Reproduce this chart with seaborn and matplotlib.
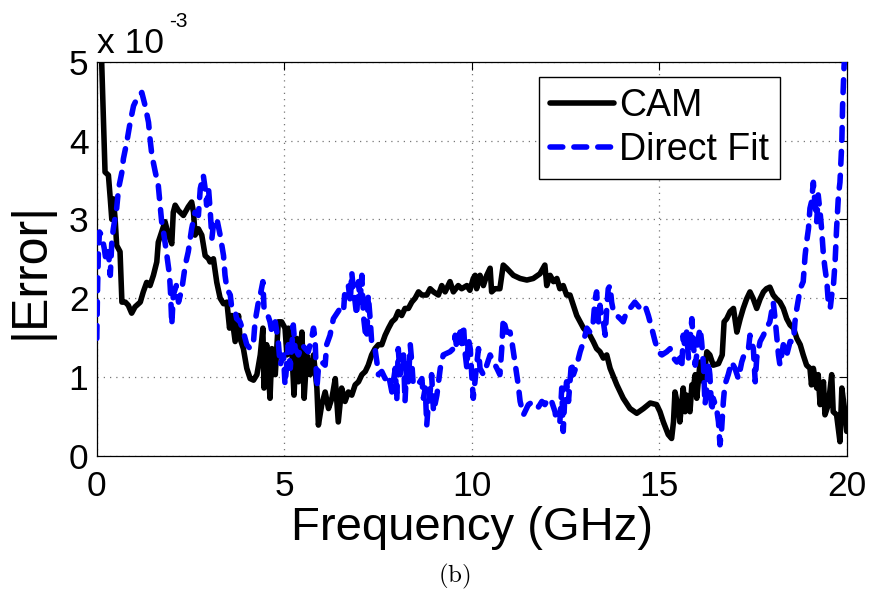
import numpy as np
import pandas as pd
import matplotlib
matplotlib.use("Agg")
import matplotlib.pyplot as plt
import seaborn as sns

# Error magnitudes in units of 1e-3, frequency in GHz
cam_freq = [0.00, 0.08, 0.13, 0.18, 0.22, 0.31, 0.36, 0.40, 0.44, 0.49, 0.53, 0.62, 0.67, 0.76, 0.84,
            0.93, 1.02, 1.16, 1.24, 1.33, 1.42, 1.51, 1.60, 1.64, 1.73, 1.82, 1.91, 2.00, 2.04, 2.09,
            2.18, 2.31, 2.44, 2.53, 2.58, 2.62, 2.71, 2.80, 2.89, 2.98, 3.02, 3.11, 3.20, 3.29, 3.38,
            3.47, 3.54, 3.60, 3.69, 3.78, 3.82, 3.91, 4.00, 4.09, 4.18, 4.27, 4.36, 4.43, 4.46, 4.53,
            4.62, 4.67, 4.76, 4.84, 4.93, 5.02, 5.07, 5.11, 5.20, 5.26, 5.33, 5.38, 5.47, 5.53, 5.60,
            5.69, 5.78, 5.87, 5.91, 6.00, 6.09, 6.18, 6.27, 6.36, 6.44, 6.53, 6.62, 6.71, 6.80, 6.89,
            6.98, 7.07, 7.16, 7.24, 7.33, 7.42, 7.51, 7.60, 7.69, 7.78, 7.87, 7.96, 8.04, 8.13, 8.22,
            8.31, 8.40, 8.49, 8.58, 8.67, 8.80, 8.89, 8.98, 9.11, 9.20, 9.29, 9.42, 9.51, 9.64, 9.73,
            9.87, 9.95, 10.04, 10.09, 10.13, 10.22, 10.31, 10.40, 10.49, 10.53, 10.62, 10.75, 10.80,
            10.84, 10.93, 11.11, 11.29, 11.47, 11.64, 11.82, 11.95, 12.00, 12.09, 12.18, 12.27, 12.35,
            12.44, 12.53, 12.62, 12.71, 12.80, 12.89, 12.98, 13.07, 13.15, 13.24, 13.33, 13.42, 13.51,
            13.60, 13.69, 13.87, 14.04, 14.22, 14.40, 14.58, 14.76, 14.93, 15.02, 15.11, 15.24, 15.33,
            15.38, 15.42, 15.51, 15.55, 15.64, 15.69, 15.73, 15.78, 15.82, 15.87, 15.91, 15.96, 16.00,
            16.09, 16.13, 16.18, 16.27, 16.35, 16.44, 16.58, 16.68, 16.73, 16.80, 16.89, 16.98, 17.07,
            17.16, 17.24, 17.33, 17.42, 17.51, 17.60, 17.69, 17.78, 17.86, 17.95, 18.04, 18.13, 18.22,
            18.31, 18.40, 18.49, 18.58, 18.67, 18.76, 18.84, 18.93, 19.02, 19.06, 19.11, 19.20, 19.24,
            19.29, 19.38, 19.42, 19.51, 19.60, 19.64, 19.73, 19.82, 19.87, 19.96, 20.00]
cam_err = [6.00, 5.30, 5.00, 4.23, 3.60, 3.56, 3.26, 3.00, 3.26, 3.00, 2.67, 2.59, 1.95, 1.95, 1.91,
           1.81, 1.89, 1.95, 2.08, 2.20, 2.16, 2.29, 2.46, 2.71, 2.84, 2.97, 2.80, 2.69, 3.09, 3.18,
           3.11, 3.05, 3.16, 3.22, 3.09, 2.80, 2.88, 2.80, 2.54, 2.50, 2.46, 2.50, 2.20, 2.00, 1.93,
           1.95, 1.62, 1.78, 1.45, 1.78, 1.49, 1.36, 1.11, 0.98, 0.96, 1.03, 1.28, 1.62, 0.86, 1.41,
           0.73, 1.36, 1.03, 1.70, 1.70, 1.62, 1.28, 1.62, 1.36, 0.77, 1.49, 0.94, 1.57, 0.73, 1.28,
           1.03, 1.28, 0.86, 0.39, 0.65, 0.81, 0.60, 0.73, 0.98, 0.43, 0.86, 0.69, 0.81, 0.77, 0.90,
           0.94, 1.03, 1.07, 1.15, 1.28, 1.36, 1.41, 1.41, 1.53, 1.62, 1.70, 1.74, 1.83, 1.78, 1.87,
           1.87, 1.95, 2.00, 2.08, 2.04, 2.04, 2.12, 2.08, 2.04, 2.16, 2.08, 2.21, 2.08, 2.16, 2.12,
           2.16, 2.10, 2.25, 2.29, 2.12, 2.29, 2.16, 2.29, 2.38, 2.08, 2.12, 2.12, 2.29,
           2.42, 2.38, 2.29, 2.25, 2.23, 2.25, 2.31, 2.42, 2.16, 2.29, 2.21, 2.25, 2.12,
           2.16, 2.04, 2.04, 1.91, 1.78, 1.70, 1.62, 1.57, 1.53, 1.45, 1.36, 1.32, 1.24,
           1.28, 1.11, 0.90, 0.73, 0.60, 0.54, 0.60, 0.67, 0.65, 0.56, 0.43, 0.27, 0.22,
           0.43, 0.81, 0.60, 0.43, 0.86, 0.56, 0.77, 0.60, 0.56, 0.90, 0.86, 1.03, 0.73,
           1.19, 1.07, 0.94, 1.32, 1.28, 1.15, 1.17, 1.28, 1.70, 1.74, 1.83, 1.87, 1.57,
           1.74, 1.87, 1.99, 2.08, 1.99, 1.87, 1.99, 2.08, 2.12, 2.14, 2.04, 1.99, 1.95,
           1.87, 1.74, 1.66, 1.62, 1.49, 1.41, 1.28, 1.15, 1.11, 0.90, 1.11, 0.86, 1.03,
           0.65, 0.94, 0.52, 0.65, 1.03, 0.56, 0.52, 0.18, 0.86, 0.52, 0.31]

fit_freq = [0.00, 0.02, 0.04, 0.07, 0.13, 0.20, 0.25, 0.31, 0.36, 0.40, 0.44, 0.53, 0.58, 0.67, 0.71,
            0.80, 0.89, 0.98, 1.07, 1.20, 1.29, 1.38, 1.42, 1.47, 1.56, 1.64, 1.69, 1.73, 1.78, 1.82,
            1.87, 1.94, 1.97, 2.00, 2.04, 2.12, 2.18, 2.27, 2.36, 2.44, 2.53, 2.62, 2.71, 2.76, 2.84,
            2.89, 2.93, 2.98, 3.02, 3.07, 3.11, 3.20, 3.29, 3.38, 3.42, 3.47, 3.56, 3.60, 3.69, 3.73,
            3.82, 3.91, 4.00, 4.09, 4.18, 4.22, 4.31, 4.36, 4.43, 4.46, 4.53, 4.62, 4.67, 4.76, 4.84,
            4.89, 4.98, 5.02, 5.11, 5.16, 5.24, 5.29, 5.38, 5.47, 5.56, 5.64, 5.73, 5.78, 5.82, 5.87,
            5.91, 6.00, 6.09, 6.13, 6.22, 6.31, 6.49, 6.58, 6.62, 6.71, 6.76, 6.80, 6.84, 6.89, 6.93,
            6.98, 7.02, 7.07, 7.11, 7.16, 7.20, 7.24, 7.29, 7.33, 7.42, 7.47, 7.51, 7.60, 7.69, 7.78,
            7.87, 7.96, 8.00, 8.04, 8.09, 8.18, 8.22, 8.27, 8.31, 8.36, 8.40, 8.44, 8.53, 8.62, 8.67,
            8.71, 8.76, 8.80, 8.84, 8.89, 8.93, 8.98, 9.07, 9.16, 9.24, 9.42, 9.51, 9.56, 9.60, 9.69,
            9.73, 9.78, 9.82, 9.87, 9.91, 9.96, 10.00, 10.04, 10.13, 10.18, 10.22, 10.31, 10.40, 10.49,
            10.58, 10.67, 10.75, 10.80, 10.84, 10.93, 11.02, 11.07, 11.15, 11.24, 11.29, 11.38, 11.51,
            11.64, 11.78, 11.87, 11.95, 12.04, 12.13, 12.22, 12.26, 12.35, 12.40, 12.44, 12.48, 12.53,
            12.58, 12.66, 12.71, 12.80, 12.89, 12.98, 13.07, 13.15, 13.24, 13.29, 13.33, 13.38, 13.42,
            13.47, 13.51, 13.56, 13.60, 13.64, 13.69, 13.73, 13.78, 13.87, 13.96, 14.04, 14.13, 14.22,
            14.35, 14.49, 14.62, 14.71, 14.80, 14.89, 14.98, 15.07, 15.20, 15.29, 15.38, 15.47, 15.55,
            15.60, 15.64, 15.69, 15.73, 15.78, 15.82, 15.87, 15.91, 15.96, 16.00, 16.04, 16.09, 16.13,
            16.18, 16.22, 16.27, 16.31, 16.35, 16.40, 16.44, 16.53, 16.58, 16.62, 16.66, 16.71, 16.75,
            16.84, 16.93, 17.02, 17.11, 17.20, 17.29, 17.38, 17.42, 17.51, 17.56, 17.60, 17.69, 17.78,
            17.86, 17.95, 18.04, 18.09, 18.13, 18.18, 18.22, 18.31, 18.40, 18.49, 18.58, 18.62, 18.67,
            18.76, 18.84, 18.89, 18.93, 18.98, 19.02, 19.06, 19.11, 19.15, 19.20, 19.24, 19.29, 19.33,
            19.38, 19.42, 19.47, 19.51, 19.56, 19.60, 19.64, 19.69, 19.73, 19.78, 19.82, 19.87, 19.89,
            19.93, 20.00]
fit_err = [1.49, 2.12, 2.54, 2.84, 2.80, 2.63, 2.46, 2.59, 2.29, 2.71, 2.88, 3.14, 3.39, 3.60, 3.77,
           3.98, 4.23, 4.44, 4.53, 4.61, 4.44, 4.23, 4.02, 3.81, 3.60, 3.43, 3.18, 2.97, 2.84, 2.71,
           2.54, 2.29, 2.04, 1.66, 2.04, 2.16, 1.95, 2.12, 2.42, 2.59, 2.88, 3.09, 3.05, 3.39, 3.56,
           3.39, 3.18, 3.39, 3.14, 2.76, 2.93, 3.01, 2.80, 2.54, 2.29, 2.12, 2.04, 1.87, 1.83, 1.74,
           1.70, 1.57, 1.41, 1.36, 1.45, 1.70, 1.95, 2.04, 2.21, 1.87, 1.83, 1.70, 1.57, 1.70, 1.45,
           1.15, 1.28, 0.90, 1.41, 1.11, 1.66, 1.36, 1.28, 1.41, 1.36, 1.32, 1.49, 1.62, 1.49, 0.86,
           1.11, 1.19, 1.15, 1.41, 1.53, 1.74, 1.87, 1.83, 2.12, 2.16, 1.95, 2.33, 2.12, 1.95, 1.78,
           2.21, 1.95, 2.29, 1.78, 1.57, 1.49, 2.04, 1.74, 1.45, 1.36, 1.19, 1.03, 1.07, 0.98, 1.03,
           0.81, 1.11, 0.69, 1.36, 1.03, 1.28, 0.69, 1.19, 0.94, 1.41, 1.19, 0.90, 0.90, 0.94, 0.98,
           0.73, 0.86, 0.39, 0.65, 0.81, 1.03, 0.56, 0.77, 1.11, 1.28, 1.32, 1.36, 1.53, 1.36, 1.57,
           1.41, 1.66, 1.32, 1.11, 1.49, 1.36, 1.03, 0.73, 1.15, 1.36, 1.11, 1.03, 1.15, 1.28,
           1.19, 1.11, 1.03, 1.36, 1.74, 1.57, 1.57, 1.45, 1.19, 0.90, 0.69, 0.52, 0.65,
           0.69, 0.62, 0.69, 0.65, 0.73, 0.69, 0.56, 0.43, 0.43, 0.86, 0.31, 0.73, 0.94,
           0.69, 1.19, 1.03, 1.15, 1.32, 1.45, 1.62, 1.57, 1.70, 1.99, 2.08, 1.70, 1.91,
           1.74, 1.70, 1.53, 1.87, 2.12, 2.16, 1.95, 1.83, 1.78, 1.74, 1.70, 1.83, 1.87,
           1.95, 1.87, 1.91, 1.78, 1.62, 1.45, 1.32, 1.28, 1.32, 1.36, 1.24, 1.19, 1.24,
           1.11, 1.53, 1.36, 1.57, 1.24, 1.45, 1.74, 1.41, 1.15, 1.28, 1.49, 1.62, 1.45,
           1.15, 0.65, 0.86, 1.19, 1.03, 0.56, 0.73, 0.60, 0.43, 0.14, 0.31, 0.69, 0.90,
           1.03, 1.19, 1.11, 0.98, 1.19, 1.32, 1.36, 1.53, 1.36, 0.94, 1.24, 1.45, 1.53,
           1.62, 1.70, 1.95, 1.74, 1.53, 1.28, 1.15, 1.41, 1.28, 1.45, 1.45, 1.70, 1.87,
           2.12, 2.21, 2.54, 2.71, 2.88, 3.14, 3.22, 3.47, 3.22, 2.97, 3.31, 3.09, 2.88,
           2.54, 2.38, 2.21, 1.95, 1.87, 2.04, 2.12, 2.46, 2.88, 3.31, 3.47, 3.98, 4.44,
           4.95, 5.30]

x_ticks = [0, 5, 10, 15, 20]
y_ticks = [0, 1, 2, 3, 4, 5]

cam_df = pd.DataFrame({"freq": cam_freq, "err": cam_err})
fit_df = pd.DataFrame({"freq": fit_freq, "err": fit_err})

sns.set_style("white")
plt.rcParams["font.family"] = ["Liberation Sans", "DejaVu Sans"]
plt.rcParams["mathtext.fontset"] = "cm"
plt.rcParams["text.color"] = "black"
plt.rcParams["axes.labelcolor"] = "black"
plt.rcParams["xtick.color"] = "black"
plt.rcParams["ytick.color"] = "black"

fig = plt.figure(figsize=(8.72, 5.99), dpi=100)
ax = fig.add_axes([0.111, 0.239, 0.860, 0.658])

dash = (0, (2.3, 2.0))

sns.lineplot(data=cam_df, x="freq", y="err", ax=ax, color="black", lw=4.0,
             estimator=None, sort=False, label="CAM", zorder=2)
sns.lineplot(data=fit_df, x="freq", y="err", ax=ax, color="#0000ff", lw=4.0,
             estimator=None, sort=False, label="Direct Fit", zorder=3)
blue = ax.get_lines()[1]
blue.set_linestyle(dash)
blue.set_dash_capstyle("round")

ax.set_xlim(0, 20)
ax.set_ylim(0, 5)
ax.set_xticks(x_ticks)
ax.set_yticks(y_ticks)
ax.set_xticklabels([str(t) for t in x_ticks])
ax.set_yticklabels([str(t) for t in y_ticks])
ax.tick_params(axis="both", direction="in", length=6, width=0.8, labelsize=25.5,
               top=True, right=True, colors="black")
ax.tick_params(axis="x", pad=10)
ax.tick_params(axis="y", pad=6)
ax.grid(True, color="#777777", linestyle=(0, (1, 4)), linewidth=0.9)
for s in ax.spines.values():
    s.set_visible(True)
    s.set_color("black")
    s.set_linewidth(0.9)

ax.set_xlabel("Frequency (GHz)", fontsize=34, labelpad=2, color="black")
ax.set_ylabel("|Error|", fontsize=36, color="black")
ax.yaxis.set_label_coords(-0.058, 0.47)

# exponent marker above the y axis
ax.text(0.0, 1.022, "x 10", transform=ax.transAxes, fontsize=25.5,
        ha="left", va="baseline", color="black")
ax.text(0.097, 1.088, "-3", transform=ax.transAxes, fontsize=15,
        ha="left", va="baseline", color="black")

leg = ax.legend(loc="upper right", bbox_to_anchor=(0.911, 0.962), borderaxespad=0,
                fontsize=27, frameon=True, fancybox=False, framealpha=1,
                edgecolor="black", handlelength=1.7, handletextpad=0.12,
                borderpad=0.3, labelspacing=0.22)
leg.get_frame().set_linewidth(1.0)
for t in leg.get_texts():
    t.set_color("black")
leg.get_lines()[1].set_linestyle(dash)
leg.get_lines()[1].set_dash_capstyle("round")

fig.text(0.521, 0.028, r"$\mathrm{(b)}$", fontsize=18, ha="center", va="baseline",
         color="black")

fig.savefig("out.png", dpi=100)
